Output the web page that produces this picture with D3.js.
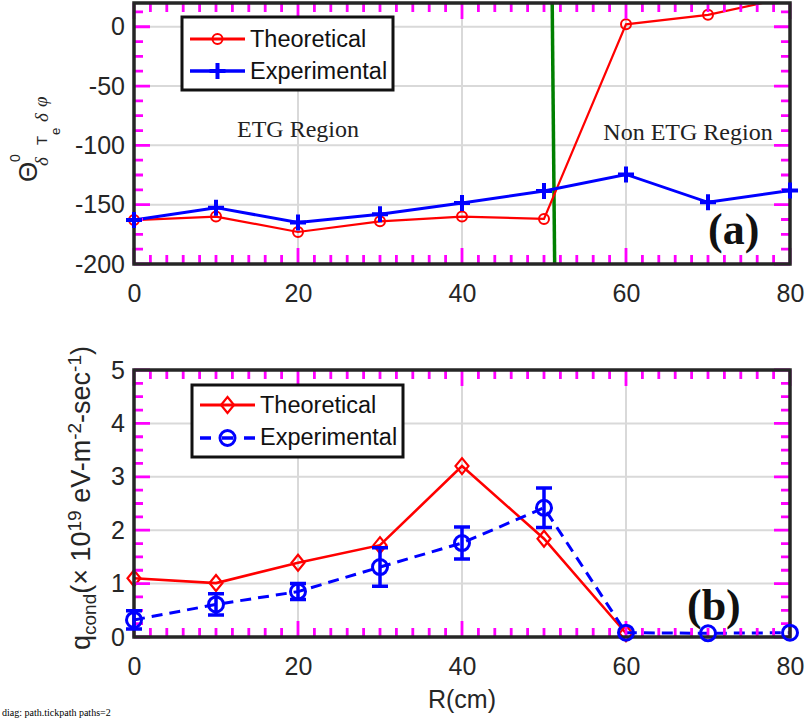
<!DOCTYPE html>
<html><head><meta charset="utf-8">
<script src="https://cdn.jsdelivr.net/npm/d3@7"></script>
<style>body{margin:0;background:#fff}svg{display:block}</style>
</head><body>
<svg id="c" width="805" height="720"></svg>
<script>
// ---- data ----
const R = [0, 10, 20, 30, 40, 50, 60, 70, 80];
const thetaTheo = [-163, -160, -173, -164, -160, -162, 2, 10, 25];
const thetaExp = [-163, -152.5, -165, -158, -148.5, -138.5, -124.5, -148, -138];
const Rq = [0, 10, 20, 30, 40, 50, 60];
const qTheo = [1.10, 1.01, 1.39, 1.72, 3.20, 1.84, 0.07];
const qExp = [0.32, 0.61, 0.85, 1.31, 1.76, 2.42, 0.08, 0.07, 0.08];
const qExpErr = [0.17, 0.2, 0.15, 0.36, 0.3, 0.37, 0, 0, 0];
const xTicks = [0, 20, 40, 60, 80];
const thetaTicks = [-200, -150, -100, -50, 0];
const qTicks = [0, 1, 2, 3, 4, 5];
const boundary = [51, 51.3];
const legendLabels = ["Theoretical", "Experimental"];

const svg = d3.select("#c");
const INK = "#262626", RED = "#ff0000", BLUE = "#0000ff", GREEN = "#008000";
const TICK = "#ff00ff";
const SANS = "'Liberation Sans', Arial, sans-serif";
const SERIF = "'Liberation Serif', 'Times New Roman', serif";

const L = 134, Rr = 790;
const x = d3.scaleLinear().domain([0, 80]).range([L, Rr]);
const yA = d3.scaleLinear().domain([-200, 20]).range([264, 3]);
const yB = d3.scaleLinear().domain([0, 5]).range([637, 370]);

function minor(a, b, s) { const r = []; for (let v = a; v <= b + 1e-9; v += s) r.push(+v.toFixed(4)); return r; }

function panelBase(y, yMaj) {
  const g = svg.append("g");
  const [yb, yt] = y.range();
  g.append("g").selectAll("line").data(xTicks.slice(1, -1)).join("line")
    .attr("x1", d => x(d)).attr("x2", d => x(d)).attr("y1", yt).attr("y2", yb)
    .attr("stroke", "#d9d9d9").attr("stroke-width", 2);
  g.append("g").selectAll("line").data(yMaj.filter(d => y(d) > yt + 2 && y(d) < yb - 2)).join("line")
    .attr("y1", d => y(d)).attr("y2", d => y(d)).attr("x1", L).attr("x2", Rr)
    .attr("stroke", "#d9d9d9").attr("stroke-width", 2);
  const fmt = d => String(d);
  const axes = [
    g.append("g").attr("transform", `translate(0,${yb})`).call(d3.axisBottom(x).tickValues(xTicks).tickSize(0).tickPadding(20).tickFormat(fmt)),
    g.append("g").attr("transform", `translate(${L},0)`).call(d3.axisLeft(y).tickValues(yMaj).tickSize(0).tickPadding(9).tickFormat(fmt))
  ];
  axes.forEach(a => {
    a.select(".domain").remove();
    a.selectAll("line").remove();
    a.selectAll("text").attr("fill", INK).style("font-family", SANS).style("font-size", "25px");
  });
}

function panelFrame(y, yMaj, yMin, xMin) {
  const [yb, yt] = y.range();
  const isMajX = v => xTicks.includes(v), isMajY = v => yMaj.some(m => Math.abs(m - v) < 1e-6);
  const allX = Array.from(new Set(xMin.concat(xTicks)));
  const allY = Array.from(new Set(yMin.concat(yMaj))).filter(v => y(v) >= yt - 0.5);
  let d = "";
  allX.forEach(v => {
    const len = isMajX(v) ? 16 : 9, px = x(v);
    d += `M${px},${yb}V${yb - len}M${px},${yt}V${yt + len}`;
  });
  allY.forEach(v => {
    const len = isMajY(v) ? 16 : 9, py = y(v);
    d += `M${L},${py}H${L + len}M${Rr},${py}H${Rr - len}`;
  });
  svg.append("path").attr("class", "tickpath").attr("d", d).attr("fill", "none").attr("stroke", TICK).attr("stroke-width", 2.8);
  svg.append("rect").attr("x", L).attr("y", yt).attr("width", Rr - L).attr("height", yb - yt)
    .attr("fill", "none").attr("stroke", INK).attr("stroke-width", 3.5);
}

// ---------- panel (a) ----------
panelBase(yA, thetaTicks);
svg.append("clipPath").attr("id", "clipA").append("rect")
  .attr("x", L).attr("y", 3).attr("width", Rr - L).attr("height", 261);
const ga = svg.append("g");
ga.append("line").attr("x1", x(boundary[0])).attr("x2", x(boundary[1]))
  .attr("y1", yA(20)).attr("y2", yA(-200)).attr("stroke", GREEN).attr("stroke-width", 3.5);
const lineA = d3.line().x((d, i) => x(R[i])).y(d => yA(d));
ga.append("path").datum(thetaTheo).attr("d", lineA).attr("clip-path", "url(#clipA)")
  .attr("fill", "none").attr("stroke", RED).attr("stroke-width", 2.2);
ga.selectAll(".ct").data(thetaTheo.slice(0, 8)).join("circle")
  .attr("cx", (d, i) => x(R[i])).attr("cy", d => yA(d)).attr("r", 5)
  .attr("fill", "none").attr("stroke", RED).attr("stroke-width", 2);
ga.append("path").datum(thetaExp).attr("d", lineA)
  .attr("fill", "none").attr("stroke", BLUE).attr("stroke-width", 3);
function plus(sel, cx, cy, s, w) {
  sel.append("path").attr("d", `M${cx - s},${cy}H${cx + s}M${cx},${cy - s}V${cy + s}`)
    .attr("stroke", BLUE).attr("stroke-width", w).attr("fill", "none");
}
panelFrame(yA, thetaTicks, minor(-200, 20, 12.5), minor(0, 80, 2));
const gp = svg.append("g");
thetaExp.forEach((d, i) => plus(gp, x(R[i]), yA(d), 8, 4));

svg.append("text").attr("x", x(20)).attr("y", 137).attr("text-anchor", "middle")
  .style("font-family", SERIF).style("font-size", "24px").attr("fill", "#222").text("ETG Region");
svg.append("text").attr("x", 688).attr("y", 140).attr("text-anchor", "middle")
  .style("font-family", SERIF).style("font-size", "24px").attr("fill", "#222").text("Non ETG Region");
svg.append("text").attr("x", 708).attr("y", 244)
  .style("font-family", SERIF).style("font-size", "44px").style("font-weight", "bold").attr("fill", "#111").text("(a)");

// legend (a)
const la = svg.append("g");
la.append("rect").attr("x", 182).attr("y", 17).attr("width", 211).attr("height", 73)
  .attr("fill", "#fff").attr("stroke", "#111").attr("stroke-width", 3);
la.append("line").attr("x1", 190).attr("x2", 245).attr("y1", 39).attr("y2", 39).attr("stroke", RED).attr("stroke-width", 3);
la.append("circle").attr("cx", 217.5).attr("cy", 39).attr("r", 5).attr("fill", "none").attr("stroke", RED).attr("stroke-width", 2);
la.append("line").attr("x1", 190).attr("x2", 245).attr("y1", 71).attr("y2", 71).attr("stroke", BLUE).attr("stroke-width", 3.5);
plus(la, 217.5, 71, 8, 4);
la.selectAll(".t").data(legendLabels).join("text")
  .attr("x", 250).attr("y", (d, i) => 47 + i * 32)
  .style("font-family", SANS).style("font-size", "23.5px").attr("fill", "#111").text(d => d);

// y label (a)
const ylA = svg.append("g").attr("transform", "translate(37,182) rotate(-90)").attr("fill", INK);
const part = (t, u, v, size, fam, it) => ylA.append("text").attr("x", u).attr("y", v)
  .style("font-family", fam).style("font-size", size + "px").style("font-style", it ? "italic" : "normal").text(t);
part("Θ", 0, 0, 26, SANS);
part("0", 20, -17, 14, SANS);
part("δ", 16, 11, 19, SERIF, true);
part("T", 37, 10, 15, SANS);
part("e", 47, 23, 13, SANS);
part("δ", 60, 11, 19, SERIF, true);
part("φ", 75, 10, 19, SERIF, true);

// ---------- panel (b) ----------
panelBase(yB, qTicks);
const gb = svg.append("g");
gb.append("path").datum(qTheo).attr("d", d3.line().x((d, i) => x(Rq[i])).y(d => yB(d)))
  .attr("fill", "none").attr("stroke", RED).attr("stroke-width", 2.6);
function diamond(sel, cx, cy) {
  sel.append("path").attr("d", `M${cx},${cy - 8}L${cx + 6.5},${cy}L${cx},${cy + 8}L${cx - 6.5},${cy}Z`)
    .attr("fill", "none").attr("stroke", RED).attr("stroke-width", 2.2);
}
qTheo.forEach((d, i) => diamond(gb, x(Rq[i]), yB(d)));
gb.append("path").datum(qExp).attr("d", d3.line().x((d, i) => x(R[i])).y(d => yB(d)))
  .attr("fill", "none").attr("stroke", BLUE).attr("stroke-width", 3).attr("stroke-dasharray", "11,7");
panelFrame(yB, qTicks, minor(0, 5, 0.25), minor(0, 80, 2));
const gc = svg.append("g");
qExp.forEach((d, i) => {
  const e = qExpErr[i], cx = x(R[i]);
  if (e > 0) {
    gc.append("path").attr("d",
      `M${cx},${yB(d - e)}V${yB(d + e)}M${cx - 8},${yB(d - e)}H${cx + 8}M${cx - 8},${yB(d + e)}H${cx + 8}`)
      .attr("stroke", BLUE).attr("stroke-width", 3.5).attr("fill", "none");
  }
  gc.append("circle").attr("cx", cx).attr("cy", yB(d)).attr("r", 7.5)
    .attr("fill", "none").attr("stroke", BLUE).attr("stroke-width", 3);
});
svg.append("text").attr("x", 687).attr("y", 620)
  .style("font-family", SERIF).style("font-size", "44px").style("font-weight", "bold").attr("fill", "#111").text("(b)");

// legend (b)
const lb = svg.append("g");
lb.append("rect").attr("x", 192).attr("y", 385).attr("width", 211).attr("height", 72)
  .attr("fill", "#fff").attr("stroke", "#111").attr("stroke-width", 3);
lb.append("line").attr("x1", 200).attr("x2", 255).attr("y1", 405).attr("y2", 405).attr("stroke", RED).attr("stroke-width", 3);
diamond(lb, 227.5, 405);
lb.append("path").attr("d", "M200,438H211M222,438H233M244,438H255").attr("stroke", BLUE).attr("stroke-width", 3.5);
lb.append("circle").attr("cx", 227.5).attr("cy", 438).attr("r", 7.5).attr("fill", "none").attr("stroke", BLUE).attr("stroke-width", 3);
lb.selectAll(".t").data(legendLabels).join("text")
  .attr("x", 260).attr("y", (d, i) => 413 + i * 32)
  .style("font-family", SANS).style("font-size", "23.5px").attr("fill", "#111").text(d => d);

// y label (b)
const ylB = svg.append("text").attr("transform", "translate(90,498) rotate(-90)")
  .attr("text-anchor", "middle").attr("fill", INK).style("font-family", SANS).style("font-size", "27px");
ylB.append("tspan").text("q");
ylB.append("tspan").attr("baseline-shift", "-30%").style("font-size", "19px").text("cond");
ylB.append("tspan").text("(× 10");
ylB.append("tspan").attr("baseline-shift", "45%").style("font-size", "19px").text("19");
ylB.append("tspan").text(" eV-m");
ylB.append("tspan").attr("baseline-shift", "45%").style("font-size", "19px").text("-2");
ylB.append("tspan").text("-sec");
ylB.append("tspan").attr("baseline-shift", "45%").style("font-size", "19px").text("-1");
ylB.append("tspan").text(")");

// x label
svg.append("text").attr("x", x(40)).attr("y", 708).attr("text-anchor", "middle")
  .attr("fill", INK).style("font-family", SANS).style("font-size", "25px").text("R(cm)");

// diagnostic
const el = document.elementFromPoint(x(2), 259);
svg.append("text").attr("x", 2).attr("y", 716).style("font-size", "10px")
  .text("diag: " + (el ? el.tagName + "." + (el.getAttribute("class") || "") : "none") + " paths=" + document.querySelectorAll(".tickpath").length);
</script>
</body></html>
